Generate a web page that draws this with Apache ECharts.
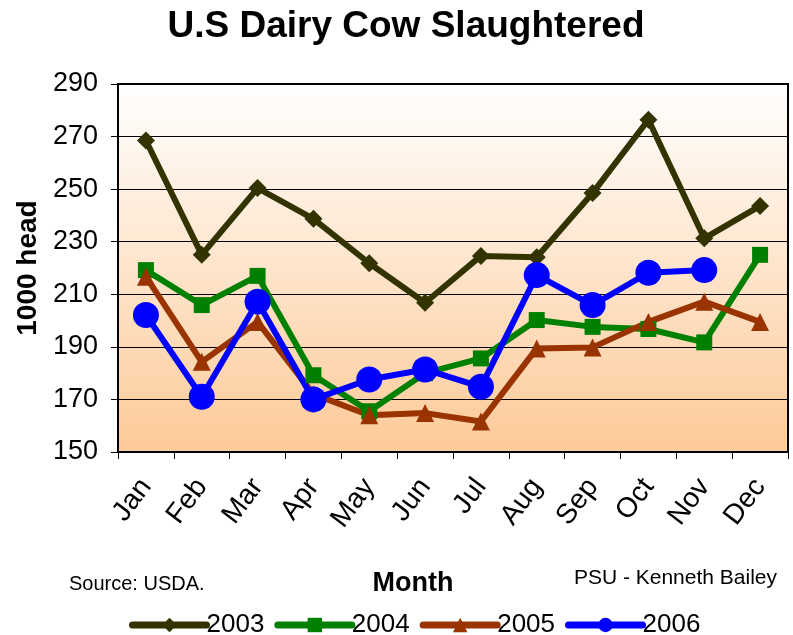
<!DOCTYPE html>
<html>
<head>
<meta charset="utf-8">
<script src="https://cdn.jsdelivr.net/npm/echarts@6/dist/echarts.min.js"></script>
<style>html,body{margin:0;padding:0;background:#fff;}#c{width:793px;height:635px;}</style>
</head>
<body>
<div id="c"></div>
<script>
const months = ['Jan','Feb','Mar','Apr','May','Jun','Jul','Aug','Sep','Oct','Nov','Dec'];
const y2003 = [268.5, 225, 250.4, 238.7, 221.8, 206.8, 224.6, 224.1, 248.5, 276.4, 231.3, 243.6];
const y2004 = [219.2, 205.9, 217, 179.2, 165.5, 180, 185.6, 200.2, 197.6, 196.8, 191.7, 225];
const y2005 = [216.7, 184.3, 199.5, 172, 164, 164.8, 161.6, 189.4, 189.8, 199.5, 207.2, 199.5];
const y2006 = [202.1, 171, 207.2, 170, 177.6, 181.4, 174.8, 217.3, 205.9, 218.2, 219.2, null];
const seriesNames = ['2003','2004','2005','2006'];
const yTicks = {min: 150, max: 290, interval: 20};

const F = 'Arial, "Liberation Sans", sans-serif';
const chart = echarts.init(document.getElementById('c'), null, {renderer: 'canvas'});

function mk(name, data, color, symbol, size) {
  return {
    name: name, type: 'line', data: data,
    symbol: symbol, symbolSize: size, showSymbol: true,
    lineStyle: {color: color, width: 6},
    itemStyle: {color: color},
    emphasis: {disabled: true},
    animation: false
  };
}

chart.setOption({
  animation: false,
  backgroundColor: '#fff',
  title: [
    {text: 'U.S Dairy Cow Slaughtered', left: 401, top: 3, textAlign: 'center',
     textStyle: {fontFamily: F, fontWeight: 'bold', fontSize: 37, color: '#000'}},
    {text: 'Month', left: 408, top: 565, textAlign: 'center',
     textStyle: {fontFamily: F, fontWeight: 'bold', fontSize: 27, color: '#000'}},
    {text: 'Source: USDA.', left: 64, top: 569,
     textStyle: {fontFamily: F, fontWeight: 'normal', fontSize: 20, color: '#000'}},
    {text: 'PSU - Kenneth Bailey', left: 772, top: 563, textAlign: 'right',
     textStyle: {fontFamily: F, fontWeight: 'normal', fontSize: 21, color: '#000'}}
  ],
  legend: {
    left: 124, top: 607,
    itemWidth: 74, itemHeight: 18, itemGap: 10,
    lineStyle: {width: 7, cap: 'round'},
    textStyle: {fontFamily: F, fontSize: 26, color: '#000', padding: [0,0,0,-5]},
    data: seriesNames
  },
  grid: {
    left: 118, right: 5, top: 84, bottom: 183,
    show: true, borderColor: '#000', borderWidth: 2,
    backgroundColor: {type: 'linear', x: 0, y: 0, x2: 0, y2: 1,
      colorStops: [{offset: 0, color: '#ffffff'}, {offset: 1, color: '#fdca98'}]}
  },
  xAxis: {
    type: 'category', data: months, boundaryGap: true,
    axisLine: {show: true, lineStyle: {color: '#000', width: 2}},
    axisTick: {show: true, length: 7, lineStyle: {color: '#000', width: 1}},
    axisLabel: {rotate: 53, margin: 30, fontFamily: F, fontSize: 28, color: '#000'},
    splitLine: {show: false}
  },
  yAxis: {
    type: 'value', min: yTicks.min, max: yTicks.max, interval: yTicks.interval,
    name: '1000 head', nameLocation: 'middle', nameGap: 60, nameRotate: 90,
    nameTextStyle: {fontFamily: F, fontWeight: 'bold', fontSize: 28, color: '#000'},
    axisLine: {show: true, lineStyle: {color: '#000', width: 2}},
    axisTick: {show: true, length: 7, lineStyle: {color: '#000', width: 1}},
    axisLabel: {margin: 20, fontFamily: F, fontSize: 27, color: '#000'},
    splitLine: {show: true, lineStyle: {color: '#000', width: 1}}
  },
  series: [
    mk('2003', y2003, '#333300', 'diamond', 18),
    mk('2004', y2004, '#008000', 'rect', 16),
    mk('2005', y2005, '#993300', 'triangle', 18),
    mk('2006', y2006, '#0000ff', 'circle', 26)
  ]
});
</script>
</body>
</html>
